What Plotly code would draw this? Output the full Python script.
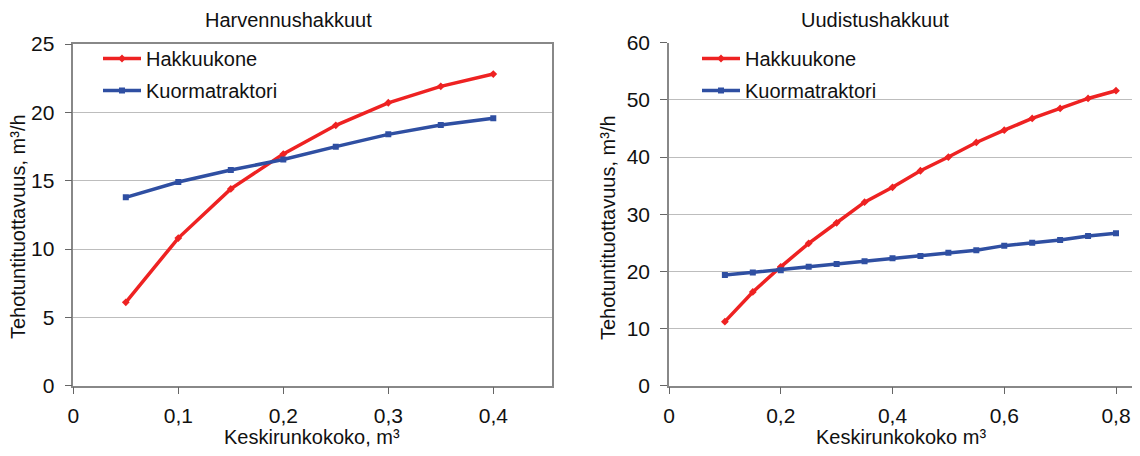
import plotly.graph_objects as go

# Harvennushakkuut (left)
x_harv = [0.05, 0.10, 0.15, 0.20, 0.25, 0.30, 0.35, 0.40]
hakkuukone_harv = [6.1, 10.8, 14.4, 16.95, 19.05, 20.7, 21.9, 22.8]
kuorma_harv = [13.78, 14.9, 15.78, 16.55, 17.49, 18.39, 19.07, 19.56]

# Uudistushakkuut (right)
x_uud = [0.10, 0.15, 0.20, 0.25, 0.30, 0.35, 0.40, 0.45, 0.50, 0.55, 0.60, 0.65, 0.70, 0.75, 0.80]
hakkuukone_uud = [11.2, 16.4, 20.8, 24.9, 28.5, 32.1, 34.7, 37.6, 40.0, 42.55, 44.7, 46.75, 48.5, 50.25, 51.6]
kuorma_uud = [19.35, 19.8, 20.2, 20.8, 21.3, 21.75, 22.3, 22.7, 23.25, 23.7, 24.5, 25.0, 25.5, 26.2, 26.65]

titles = ["Harvennushakkuut", "Uudistushakkuut"]
x_titles = ["Keskirunkokoko, m³", "Keskirunkokoko m³"]
y_title = "Tehotuntituottavuus, m³/h"
names = ["Hakkuukone", "Kuormatraktori"]

RED = "#EE2222"
BLUE = "#2F4FA2"
FONT = "Liberation Sans, Arial, sans-serif"
OFF = 8  # page body margin offset
W, H = 1140 - 2 * OFF, 456 - 2 * OFF  # keep the page free of scrollbars

fig = go.Figure()

def add(x, y, name, color, symbol, xa, ya, legend, group):
    fig.add_trace(go.Scatter(
        x=x, y=y, name=name, mode="lines+markers",
        line=dict(color=color, width=3.5),
        marker=dict(color=color, symbol=symbol, size=6),
        xaxis=xa, yaxis=ya, legend=legend, legendgroup=group,
    ))

add(x_harv, hakkuukone_harv, names[0], RED, "diamond", "x", "y", "legend", "a1")
add(x_harv, kuorma_harv, names[1], BLUE, "square", "x", "y", "legend", "a2")
add(x_uud, hakkuukone_uud, names[0], RED, "diamond", "x2", "y2", "legend2", "b1")
add(x_uud, kuorma_uud, names[1], BLUE, "square", "x2", "y2", "legend2", "b2")

def px(v):
    return min(1.0, (v - OFF) / W)

def py(v):
    return 1 - (v - OFF) / H

axis_common = dict(
    showline=True, linecolor="#888888", linewidth=1.5,
    ticks="outside", ticklen=7, tickcolor="#666666",
    tickfont=dict(size=21, color="#111111", family=FONT),
    zeroline=False, automargin=False,
)
xstyle = dict(ticklabelstandoff=3, ticklabeloverflow="allow", **axis_common)
ystyle = dict(ticklabelstandoff=6, showgrid=True, gridcolor="#BDBDBD", gridwidth=1, **axis_common)

right_edge = OFF + W
fig.update_layout(
    width=W, height=H,
    margin=dict(l=0, r=0, t=0, b=0, pad=0, autoexpand=False),
    paper_bgcolor="white", plot_bgcolor="white",
    separators=", ",
    font=dict(family=FONT, color="#111111"),
    xaxis=dict(domain=[px(73.3), px(552.3)], range=[0, 0.4562], anchor="y",
               tickvals=[0, 0.1, 0.2, 0.3, 0.4], showgrid=False, mirror=True, **xstyle),
    yaxis=dict(domain=[py(385.7), py(44)], range=[0, 25], anchor="x",
               tickvals=[0, 5, 10, 15, 20, 25], mirror=True, **ystyle),
    xaxis2=dict(domain=[px(669), 1.0], range=[0, (right_edge - 669) / 558.75], anchor="y2",
                tickvals=[0, 0.2, 0.4, 0.6, 0.8], showgrid=False, **xstyle),
    yaxis2=dict(domain=[py(385.7), py(42.7)], range=[0, 60], anchor="x2",
                tickvals=[0, 10, 20, 30, 40, 50, 60], **ystyle),
    legend=dict(x=px(98), y=py(39), xanchor="left", yanchor="top",
                bgcolor="rgba(0,0,0,0)", font=dict(size=20, family=FONT),
                tracegroupgap=3, itemwidth=38),
    legend2=dict(x=px(697), y=py(39), xanchor="left", yanchor="top",
                 bgcolor="rgba(0,0,0,0)", font=dict(size=20, family=FONT),
                 tracegroupgap=3, itemwidth=38),
    showlegend=True,
)

def note(text, x, y, angle=0, size=21):
    return dict(text=text, x=px(x), y=py(y), xref="paper", yref="paper",
                xanchor="center", yanchor="middle", textangle=angle,
                showarrow=False, font=dict(size=size, family=FONT))

ann = [
    note(titles[0], 288, 20, size=20),
    note(titles[1], 875, 20, size=20),
    note(x_titles[0], 312, 437, size=20),
    note(x_titles[1], 901, 437, size=20),
    note(y_title, 18, 227, -90, size=20),
    note(y_title, 608, 227, -90, size=20),
]
fig.update_layout(annotations=ann)

fig.write_html("out.html")
